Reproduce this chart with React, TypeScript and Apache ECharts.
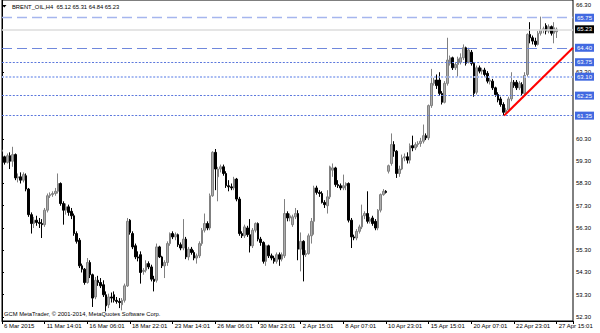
import React, { useEffect, useRef } from "react";
import * as echarts from "echarts";

// ---- texts ----
const symbolTitle = "BRENT_OIL,H4  65.12 65.31 64.84 65.23";
const copyright = "GCM MetaTrader, © 2001-2014, MetaQuotes Software Corp.";

// ---- x axis tick labels (one every 16 bars) ----
const tickLabels = [
  "6 Mar 2015", "11 Mar 14:01", "16 Mar 06:01", "18 Mar 22:01", "23 Mar 14:01",
  "26 Mar 06:01", "30 Mar 23:01", "2 Apr 15:01", "8 Apr 07:01", "10 Apr 23:01",
  "15 Apr 15:01", "20 Apr 07:01", "22 Apr 23:01", "27 Apr 15:01",
];
const barsPerTick = 16;

// ---- y axis labels (those hidden behind level boxes are left out) ----
const yLabelValues = [52.3, 53.3, 54.3, 55.3, 56.3, 57.3, 58.3, 59.3, 60.3, 63.3, 66.3];

// ---- price levels ----
const dashedLevels = [65.75, 64.4];
const bidLevel = 65.23;
const dottedLevels = [63.75, 63.1, 62.25, 61.35];
const trendStart = [188.25, 61.35]; // [bar, price]
const trendEnd = [214.1, 64.4];

// ---- candles [open, close, low, high] ----
const candlesMarch1 = [
  [59.75, 59.8, 59.7, 59.9], [59.5, 59.25, 59.15, 59.55], [59.25, 59.55, 59.2, 59.65], [59.55, 59.3, 58.95, 59.7],
  [59.3, 59.6, 59.05, 59.95], [59.6, 58.55, 58.45, 59.65], [58.55, 58.6, 58.35, 58.75], [58.6, 58.45, 58.3, 58.8],
  [58.45, 58.7, 58.35, 58.8], [58.65, 58.05, 57.95, 58.75], [58.05, 56.9, 56.8, 58.1], [56.9, 56.5, 56.05, 57.0],
  [56.5, 56.65, 56.3, 56.8], [56.65, 56.55, 56.4, 56.85], [56.55, 56.5, 56.3, 56.75], [56.5, 56.45, 55.85, 56.7],
  [56.45, 57.1, 56.35, 57.2], [57.1, 57.75, 57.0, 57.85], [57.75, 57.8, 57.65, 57.9], [57.8, 57.85, 57.7, 57.95],
  [57.85, 57.95, 57.75, 58.1], [57.95, 58.3, 57.85, 58.75], [58.3, 57.4, 57.3, 58.35], [57.4, 57.1, 56.45, 57.5],
  [57.1, 57.25, 56.9, 57.4], [57.25, 57.0, 56.85, 57.35], [57.05, 56.85, 56.7, 57.2], [56.85, 56.05, 55.95, 56.95],
  [56.05, 55.7, 55.6, 56.15], [55.75, 54.6, 54.5, 55.85], [54.6, 54.45, 54.3, 54.7], [54.45, 53.85, 53.75, 54.5],
  [53.85, 54.75, 53.8, 54.95], [54.75, 54.2, 54.05, 54.85], [54.2, 53.15, 52.75, 54.25], [53.2, 53.95, 53.1, 54.1],
  [53.95, 53.85, 53.7, 54.15], [53.85, 53.7, 53.6, 54.05], [53.75, 53.3, 53.2, 53.95], [53.3, 52.8, 52.55, 53.45],
  [52.85, 53.2, 52.7, 53.35], [53.2, 53.15, 52.95, 53.4], [53.3, 53.05, 52.95, 53.45], [53.05, 53.0, 52.9, 53.2],
  [53.0, 52.95, 52.7, 53.15], [52.85, 53.05, 52.6, 53.15], [53.05, 53.7, 52.95, 53.8], [53.7, 56.6, 53.65, 56.75],
  [56.65, 56.1, 56.0, 56.7], [56.05, 55.45, 55.35, 56.15], [55.5, 55.0, 54.9, 55.6], [55.0, 54.95, 54.8, 55.25],
  [55.1, 54.3, 53.8, 55.25], [54.35, 54.4, 54.2, 54.5], [54.4, 54.7, 54.3, 54.85], [54.7, 54.55, 54.45, 54.8],
];
const candlesMarch2 = [
  [54.55, 54.0, 53.9, 54.65], [54.0, 53.9, 53.45, 54.15], [53.95, 55.45, 53.85, 55.6], [55.45, 55.0, 54.95, 55.5],
  [55.0, 54.6, 54.5, 55.05], [54.6, 54.75, 54.05, 54.85], [54.75, 55.6, 54.6, 55.7], [55.6, 56.05, 55.5, 56.1],
  [56.05, 55.9, 55.8, 56.15], [55.9, 56.0, 55.75, 56.1], [56.0, 55.55, 55.45, 56.05], [55.55, 55.4, 55.3, 55.65],
  [55.4, 55.8, 55.3, 56.7], [55.8, 55.0, 54.9, 55.9], [55.0, 55.35, 54.85, 55.45], [55.35, 55.2, 55.1, 55.45],
  [55.2, 54.95, 54.85, 55.3], [54.95, 55.05, 54.7, 55.15], [55.05, 55.6, 54.95, 55.7], [55.6, 56.2, 55.5, 56.3],
  [56.2, 56.5, 56.1, 56.95], [56.5, 56.3, 56.2, 56.6], [56.3, 57.75, 56.2, 57.85], [57.75, 59.7, 57.7, 59.75],
  [59.7, 58.95, 58.0, 59.85], [58.6, 58.95, 57.5, 59.05], [58.95, 59.05, 58.8, 59.15], [59.05, 58.75, 58.65, 59.15],
  [58.75, 58.2, 58.1, 58.85], [58.2, 58.15, 57.95, 58.45], [58.15, 58.1, 58.0, 58.3], [58.1, 58.5, 58.0, 58.6],
  [58.5, 57.6, 57.5, 58.55], [57.6, 56.05, 55.95, 57.7], [56.05, 55.95, 55.85, 56.15], [55.95, 56.35, 55.85, 56.45],
  [56.3, 56.0, 55.9, 56.4], [56.0, 55.5, 55.2, 56.7], [55.5, 56.2, 55.4, 56.3], [56.2, 56.5, 56.1, 56.55],
  [56.5, 55.8, 55.7, 56.55], [55.8, 55.65, 55.5, 55.9], [55.65, 54.8, 54.7, 55.7], [54.8, 55.5, 54.6, 55.55],
  [55.5, 55.05, 54.95, 55.55], [55.05, 54.95, 54.85, 55.15], [54.95, 54.8, 54.7, 55.05], [54.8, 55.1, 54.7, 55.2],
  [55.1, 54.9, 54.6, 55.2], [54.9, 55.1, 54.8, 55.2], [55.05, 56.95, 54.95, 57.6], [56.95, 56.75, 56.6, 57.05],
  [56.75, 56.85, 56.6, 56.95], [56.45, 56.8, 56.35, 56.9], [56.8, 56.95, 56.7, 57.2], [56.95, 55.35, 54.85, 57.1],
];
const candlesApril1 = [
  [55.35, 55.7, 54.35, 56.1], [55.7, 55.1, 53.9, 55.75], [55.1, 55.15, 55.0, 55.3], [55.15, 55.95, 55.1, 56.05],
  [55.95, 56.6, 55.6, 56.75], [56.6, 58.1, 56.0, 58.2], [58.1, 57.9, 57.8, 58.2], [57.9, 57.85, 57.7, 58.0],
  [57.85, 57.45, 57.4, 57.95], [57.45, 57.35, 57.2, 57.55], [57.3, 57.7, 56.95, 58.0], [57.7, 59.05, 57.6, 59.1],
  [58.9, 59.0, 58.6, 59.2], [59.0, 58.25, 58.15, 59.05], [58.25, 58.2, 58.1, 58.45], [58.2, 58.1, 58.0, 58.3],
  [58.1, 58.2, 58.0, 58.7], [58.2, 58.3, 58.0, 58.35], [58.3, 56.65, 56.55, 58.35], [56.65, 55.9, 55.4, 56.75],
  [55.9, 55.85, 55.75, 56.0], [55.85, 56.15, 55.75, 56.25], [56.15, 56.35, 56.05, 56.45], [56.35, 56.85, 56.25, 57.35],
  [56.85, 56.95, 56.7, 57.05], [56.95, 56.6, 56.5, 57.95], [56.6, 56.7, 56.5, 56.8], [56.75, 56.5, 56.4, 56.85],
  [56.6, 56.3, 56.2, 56.7], [56.3, 57.1, 56.2, 57.15], [57.1, 57.8, 57.0, 57.85], [57.8, 57.95, 57.75, 58.05],
  [57.95, 57.9, 57.85, 58.0],
];
const candlesApril2 = [
  [58.85, 59.1, 58.75, 59.15], [59.2, 60.05, 59.1, 60.55], [60.05, 59.75, 59.5, 60.2], [59.75, 58.75, 58.55, 59.8],
  [58.75, 58.95, 58.6, 59.1], [58.95, 59.45, 58.9, 59.6], [59.45, 59.5, 59.3, 59.65], [59.5, 59.35, 59.2, 59.7],
  [59.35, 60.0, 59.2, 60.1], [60.0, 59.9, 59.75, 60.45], [59.9, 60.05, 59.8, 60.15], [60.05, 60.1, 59.95, 60.2],
  [60.1, 60.2, 59.95, 60.35], [60.2, 60.45, 60.1, 60.95], [60.45, 60.35, 60.25, 60.55], [60.35, 61.8, 60.25, 61.85],
  [61.8, 62.8, 61.7, 63.45], [62.8, 62.95, 62.7, 63.05], [62.95, 62.7, 62.55, 63.2], [62.95, 62.35, 62.25, 63.3],
  [62.35, 61.95, 61.85, 62.45], [61.95, 62.8, 61.9, 62.9], [62.8, 63.85, 62.7, 64.85], [63.7, 63.95, 63.6, 64.05],
  [63.95, 63.5, 63.4, 64.0], [63.5, 63.65, 63.4, 63.75], [63.65, 63.9, 63.1, 64.0], [63.75, 63.95, 63.65, 64.15],
  [63.95, 64.4, 63.85, 64.55], [64.4, 63.7, 63.6, 64.45], [63.75, 64.3, 63.7, 64.4], [64.2, 63.7, 63.6, 64.3],
  [63.7, 62.35, 62.2, 63.75], [62.4, 63.5, 62.3, 63.6], [63.5, 63.35, 63.25, 63.6], [63.35, 63.4, 63.2, 63.5],
  [63.4, 63.2, 63.1, 63.5], [63.25, 62.9, 62.8, 63.35], [62.9, 62.95, 62.75, 63.05], [62.9, 62.6, 62.5, 63.0],
  [62.6, 62.3, 62.2, 62.65], [62.3, 62.05, 61.95, 62.4], [62.1, 61.85, 61.75, 62.2], [61.85, 61.5, 61.36, 61.95],
  [61.5, 61.6, 61.45, 61.7], [61.6, 62.1, 61.55, 62.2], [62.1, 62.85, 62.0, 63.3], [62.85, 62.7, 62.6, 62.95],
  [62.85, 62.6, 62.5, 62.95], [62.6, 62.8, 62.5, 62.9], [62.75, 62.35, 62.25, 62.85], [62.35, 63.15, 62.25, 63.3],
  [63.2, 65.0, 63.1, 65.05], [65.0, 64.85, 64.6, 65.55], [64.85, 64.7, 64.55, 64.95], [64.7, 64.55, 64.45, 64.85],
  [64.55, 65.05, 64.5, 65.15], [65.05, 65.2, 64.95, 65.8], [65.2, 65.25, 65.05, 65.35], [65.4, 65.15, 65.0, 65.5],
  [65.15, 65.35, 65.05, 65.45], [65.35, 65.05, 64.95, 65.4], [65.05, 65.3, 64.6, 65.55], [65.12, 65.23, 64.84, 65.31],
];

const candles = [...candlesMarch1, ...candlesMarch2, ...candlesApril1, ...candlesApril2];

const Y_MIN = 52.12;
const Y_MAX = 66.547;
const X_MAX = 214.1;
const FONT = "'Liberation Sans', Arial, sans-serif";
const BOX_BLUE = "#4169e1";

export default function App() {
  const ref = useRef<HTMLDivElement>(null);

  useEffect(() => {
    if (!ref.current) return;
    const chart = echarts.init(ref.current, undefined, { renderer: "svg" });

    const seriesData = candles.map((c, i) => [i, c[0], c[1], c[2], c[3]]);

    const boxLabel = (bg: string) => ({
      show: true,
      position: "end",
      distance: 2,
      formatter: (p: any) => Number(p.value).toFixed(2),
      backgroundColor: bg,
      color: "#ffffff",
      fontSize: 6,
      fontFamily: FONT,
      padding: [1, 2, 0, 2],
      lineHeight: 7,
    });

    const dashedColors = ["#a6b6ee", "#7088dc"];
    const dottedColors = ["#5c78dc", "#a8bbf2", "#5c78dc", "#5c78dc"];
    const dottedWidths = [1, 2, 1, 1];

    const markData: any[] = [
      ...dashedLevels.map((p, i) => ({
        yAxis: p,
        lineStyle: { color: dashedColors[i], width: i === 0 ? 1.3 : 1, type: [10, 5] },
        label: boxLabel(BOX_BLUE),
      })),
      {
        yAxis: bidLevel,
        lineStyle: { color: "#dcdcdc", width: 1.5, type: "solid" },
        label: boxLabel("#000000"),
      },
      ...dottedLevels.map((p, i) => ({
        yAxis: p,
        lineStyle: { color: dottedColors[i], width: dottedWidths[i], type: [2, 1.6] },
        label: boxLabel(BOX_BLUE),
      })),
      [
        {
          coord: trendStart,
          lineStyle: { color: "#ff0000", width: 2, type: "solid" },
          label: { show: false },
        },
        { coord: trendEnd },
      ],
    ];

    const option: any = {
      animation: false,
      grid: {
        left: 2,
        right: 27,
        top: 0,
        bottom: 12,
        show: true,
        borderColor: "#000",
        borderWidth: 1,
        backgroundColor: "#fff",
      },
      xAxis: {
        type: "value",
        min: 0,
        max: X_MAX,
        interval: barsPerTick,
        splitLine: { show: false },
        axisLine: { show: true, lineStyle: { color: "#000", width: 1 } },
        axisTick: { show: true, length: 3, lineStyle: { color: "#000" } },
        axisLabel: {
          show: true,
          align: "left",
          margin: 2,
          padding: [0, 0, 0, 2],
          fontSize: 6,
          color: "#000",
          fontFamily: FONT,
          hideOverlap: false,
          formatter: (v: number) => {
            const k = Math.round(v / barsPerTick);
            return Math.abs(v - k * barsPerTick) < 1e-6 && k < tickLabels.length ? tickLabels[k] : "";
          },
        },
      },
      yAxis: {
        type: "value",
        position: "right",
        min: Y_MIN,
        max: Y_MAX,
        splitLine: { show: false },
        axisLine: { show: true, lineStyle: { color: "#000" } },
        axisTick: { show: true, length: 2, customValues: yLabelValues, lineStyle: { color: "#000" } },
        axisLabel: {
          customValues: yLabelValues,
          formatter: (v: number) => v.toFixed(2),
          fontSize: 6,
          margin: 3,
          color: "#000",
          fontFamily: FONT,
        },
      },
      series: [
        {
          type: "candlestick",
          data: seriesData,
          encode: { x: 0, y: [1, 2, 3, 4] },
          barWidth: 2,
          clip: true,
          itemStyle: {
            color: "#acacac",
            color0: "#000000",
            borderColor: "#808080",
            borderColor0: "#000000",
            borderWidth: 1,
          },
          markLine: {
            symbol: ["none", "none"],
            silent: true,
            animation: false,
            data: markData,
          },
        },
      ],
      graphic: [
        {
          type: "polygon",
          shape: { points: [[2, 5], [6.5, 5], [4.25, 7.5]] },
          style: { fill: "#000" },
        },
        {
          type: "text",
          x: 12,
          y: 7,
          style: {
            text: symbolTitle,
            fontSize: 5.8,
            fontFamily: FONT,
            fill: "#000",
            verticalAlign: "middle",
          },
        },
        {
          type: "text",
          x: 4,
          y: 314,
          style: {
            text: copyright,
            fontSize: 5.8,
            fontFamily: FONT,
            fill: "#000",
            verticalAlign: "middle",
          },
        },
      ],
    };

    chart.setOption(option);
    return () => chart.dispose();
  }, []);

  return (
    <div
      ref={ref}
      style={{ position: "absolute", left: 0, top: 0, width: 600, height: 333, background: "#fff" }}
    />
  );
}
